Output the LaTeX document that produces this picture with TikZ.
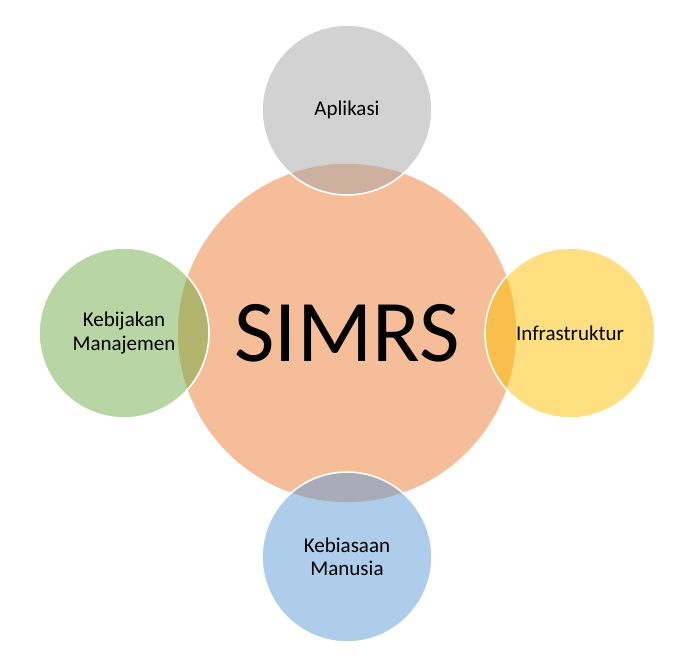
\documentclass[tikz,border=0pt]{standalone}
\usepackage{fontspec}
\setmainfont{Carlito}
\definecolor{cOrange}{HTML}{ED7D31}
\definecolor{cGray}{HTML}{A5A5A5}
\definecolor{cYellow}{HTML}{FFC000}
\definecolor{cBlue}{HTML}{5B9BD5}
\definecolor{cGreen}{HTML}{70AD47}
\tikzset{
  bubble/.style={circle, inner sep=0pt, draw=white, line width=1.6pt,
    fill opacity=0.5, text opacity=1, align=center, text=black},
  bigbubble/.style={bubble, minimum size=340pt, font=\fontsize{88}{100}\selectfont},
  smallbubble/.style={bubble, minimum size=170pt, font=\fontsize{21}{23.5}\selectfont},
}
\begin{document}
\begin{tikzpicture}[x=1pt, y=-1pt]
  \useasboundingbox (0,0) rectangle (700,661);
  \node[bigbubble, fill=cOrange] (simrs) at (347,333) {SIMRS};
  \node[smallbubble, fill=cGray] (apl) at (347,110) {Aplikasi};
  \node[smallbubble, fill=cYellow] (inf) at (570,333) {Infrastruktur};
  \node[smallbubble, fill=cBlue] (keb) at (347,557) {Kebiasaan\\Manusia};
  \node[smallbubble, fill=cGreen] (kman) at (124,333) {Kebijakan\\Manajemen};
\end{tikzpicture}
\end{document}
